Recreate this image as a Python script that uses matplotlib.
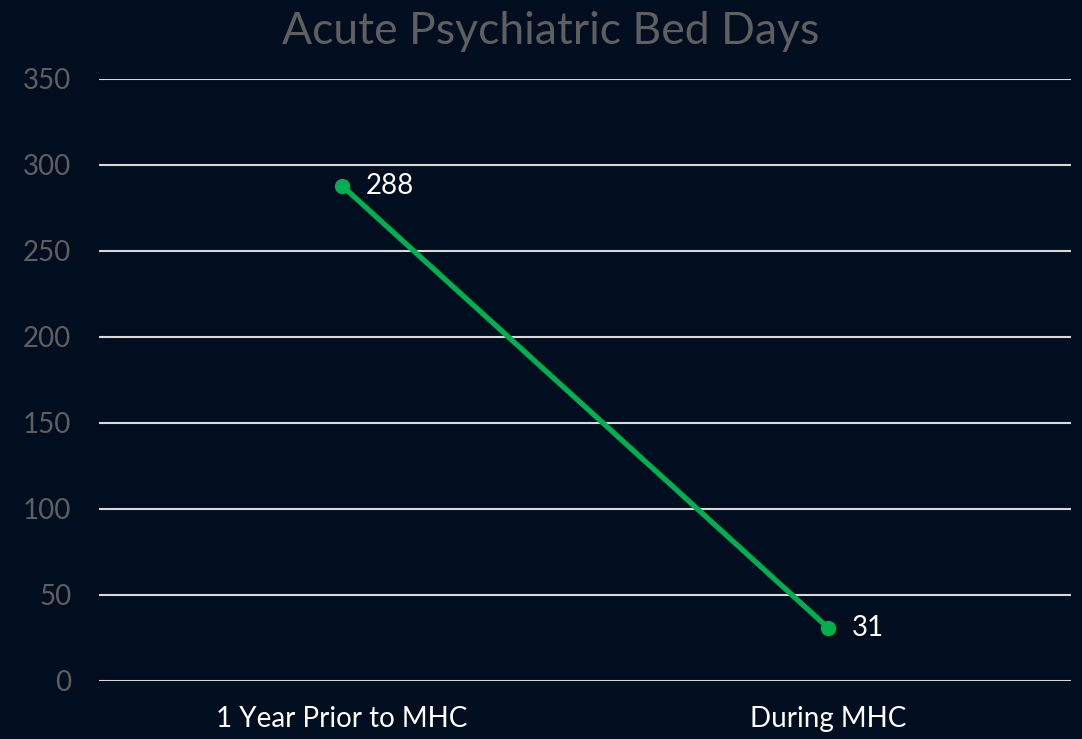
import matplotlib.pyplot as plt

categories = ['1 Year Prior to MHC', 'During MHC']
bed_days = [288, 31]
y_ticks = [0, 50, 100, 150, 200, 250, 300, 350]

bg = '#000e20'
green = '#00b050'
grey = '#5f5f5f'

plt.rcParams['font.family'] = ['Lato', 'DejaVu Sans']

fig = plt.figure(figsize=(10.82, 7.39), dpi=100, facecolor=bg)
ax = fig.add_axes([0.0915, 0.0785, 0.8983, 0.8146], facecolor=bg)

x = list(range(len(categories)))
ax.plot(x, bed_days, color=green, linewidth=3.8, marker='o', markersize=10, zorder=3)
for xi, v in zip(x, bed_days):
    ax.annotate(str(v), (xi, v), xytext=(17, 0), textcoords='offset points',
                color='white', fontsize=20, va='center', ha='left')

ax.set_xlim(-0.5, 1.5)
ax.set_ylim(0, 350)
ax.set_yticks(y_ticks)
ax.set_xticks(x)
ax.set_xticklabels(categories)
ax.grid(axis='y', color='#d9d9d9', linewidth=1.5)
ax.set_axisbelow(True)
for s in ax.spines.values():
    s.set_visible(False)
ax.tick_params(axis='y', length=0, labelsize=20, labelcolor=grey, pad=20)
ax.tick_params(axis='x', length=0, labelsize=20, labelcolor='white', pad=18)

fig.suptitle('Acute Psychiatric Bed Days', color=grey, fontsize=32,
             x=0.509, y=0.985, va='top')

fig.savefig('out.png', facecolor=bg)
